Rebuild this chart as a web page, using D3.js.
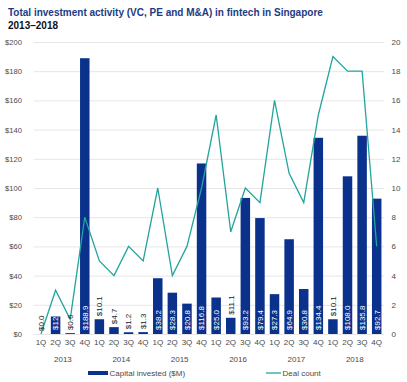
<!DOCTYPE html>
<html><head><meta charset="utf-8">
<script src="https://cdn.jsdelivr.net/npm/d3@7"></script>
<style>
html,body{margin:0;padding:0;background:#fff;}
svg{display:block;font-family:"Liberation Sans",Arial,sans-serif;}
</style></head>
<body><svg id="c" width="407" height="382"></svg>
<script>
const quarters = ["1Q","2Q","3Q","4Q","1Q","2Q","3Q","4Q","1Q","2Q","3Q","4Q","1Q","2Q","3Q","4Q","1Q","2Q","3Q","4Q","1Q","2Q","3Q","4Q"];
const years = ["2013","2014","2015","2016","2017","2018"];
const capital = [0.0,12,0.6,188.9,10.1,4.7,1.2,1.3,38.2,28.3,20.8,116.8,25.0,11.1,93.2,79.4,27.3,64.9,30.8,134.4,10.1,108.0,135.8,92.7];
const capitalLabels = ["$0.0","$12","$0.6","$188.9","$10.1","$4.7","$1.2","$1.3","$38.2","$28.3","$20.8","$116.8","$25.0","$11.1","$93.2","$79.4","$27.3","$64.9","$30.8","$134.4","$10.1","$108.0","$135.8","$92.7"];
const deals = [0,3,1,8,5,4,6,5,10,4,6,10,15,7,10,9,16,11,9,15,19,18,18,6];
const leftTicks = [0,20,40,60,80,100,120,140,160,180,200];
const rightTicks = [0,2,4,6,8,10,12,14,16,18,20];

const BLUE = "#0a318c", TEAL = "#22a59c", GREY = "#4a4a4a";
const svg = d3.select("#c");
const idx = d3.range(quarters.length);
const x = d3.scaleBand().domain(idx).range([33.7,384]).paddingInner(0.35).paddingOuter(0.175);
const y = d3.scaleLinear().domain([0,200]).range([334,42]);
const y2 = d3.scaleLinear().domain([0,20]).range([334,42]);

// title
svg.append("text").attr("x",8).attr("y",16).attr("font-size",10).attr("font-weight","bold")
  .attr("fill","#1d3a84").text("Total investment activity (VC, PE and M&A) in fintech in Singapore");
svg.append("text").attr("x",8).attr("y",28.5).attr("font-size",10).attr("font-weight","bold")
  .attr("fill","#111").text("2013–2018");

// grid
svg.append("g").selectAll("line").data(leftTicks).join("line")
  .attr("x1",33.7).attr("x2",384).attr("y1",d=>y(d)+0.5).attr("y2",d=>y(d)+0.5)
  .attr("stroke","#e6e6e6").attr("stroke-width",1);

// left axis
const la = svg.append("g").attr("transform","translate(24,0)")
  .call(d3.axisLeft(y).tickValues(leftTicks).tickSize(0).tickPadding(2).tickFormat(d=>"$"+d));
la.select(".domain").remove();
la.selectAll("text").attr("font-size",7.6).attr("fill",GREY).attr("font-family","Liberation Sans, Arial, sans-serif");

// right axis
const ra = svg.append("g").attr("transform","translate(390,0)")
  .call(d3.axisRight(y2).tickValues(rightTicks).tickSize(0).tickPadding(1.5));
ra.select(".domain").remove();
ra.selectAll("text").attr("font-size",8).attr("fill",GREY).attr("font-family","Liberation Sans, Arial, sans-serif");

// bottom axis (quarters)
const ba = svg.append("g").attr("transform","translate(0,339)")
  .call(d3.axisBottom(x).tickSize(0).tickPadding(0).tickFormat(i=>quarters[i]));
ba.select(".domain").remove();
ba.selectAll("text").attr("font-size",8).attr("fill",GREY).attr("font-family","Liberation Sans, Arial, sans-serif");

// year labels
svg.append("g").selectAll("text").data(years).join("text")
  .attr("x",(d,i)=>(x(i*4+1)+x(i*4+2))/2 + x.bandwidth()/2)
  .attr("y",362).attr("text-anchor","middle").attr("font-size",8).attr("fill",GREY).text(d=>d);

// bars
svg.append("g").selectAll("rect").data(idx).join("rect")
  .attr("x",i=>x(i)).attr("width",x.bandwidth())
  .attr("y",i=>y(capital[i])).attr("height",i=>y(0)-y(capital[i]))
  .attr("fill",BLUE);

// line
const line = d3.line().x(i=>x(i)+x.bandwidth()/2).y(i=>y2(deals[i]));
svg.append("path").datum(idx).attr("d",line).attr("fill","none")
  .attr("stroke",TEAL).attr("stroke-width",1.3).attr("stroke-linejoin","miter");

// bar labels
const lg = svg.append("g");
idx.forEach(i=>{
  const cx = x(i)+x.bandwidth()/2;
  const h = y(0)-y(capital[i]);
  const t = lg.append("text").attr("font-size",8).attr("dy","0.35em").text(capitalLabels[i]);
  const w = t.node().getComputedTextLength();
  if (w + 4 <= h) {
    t.attr("fill","#fff").attr("text-anchor","start")
     .attr("transform",`translate(${cx},${y(0)-4}) rotate(-90)`);
  } else {
    t.attr("fill","#222").attr("text-anchor","start")
     .attr("transform",`translate(${cx},${y(capital[i])-3}) rotate(-90)`);
  }
});

// legend
svg.append("rect").attr("x",88).attr("y",371).attr("width",20).attr("height",4).attr("fill",BLUE);
svg.append("text").attr("x",109.5).attr("y",376).attr("font-size",8).attr("fill",GREY).text("Capital invested ($M)");
svg.append("line").attr("x1",266).attr("x2",281).attr("y1",373).attr("y2",373).attr("stroke",TEAL).attr("stroke-width",1.3);
svg.append("text").attr("x",282.5).attr("y",376).attr("font-size",8).attr("fill",GREY).text("Deal count");
</script></body></html>
